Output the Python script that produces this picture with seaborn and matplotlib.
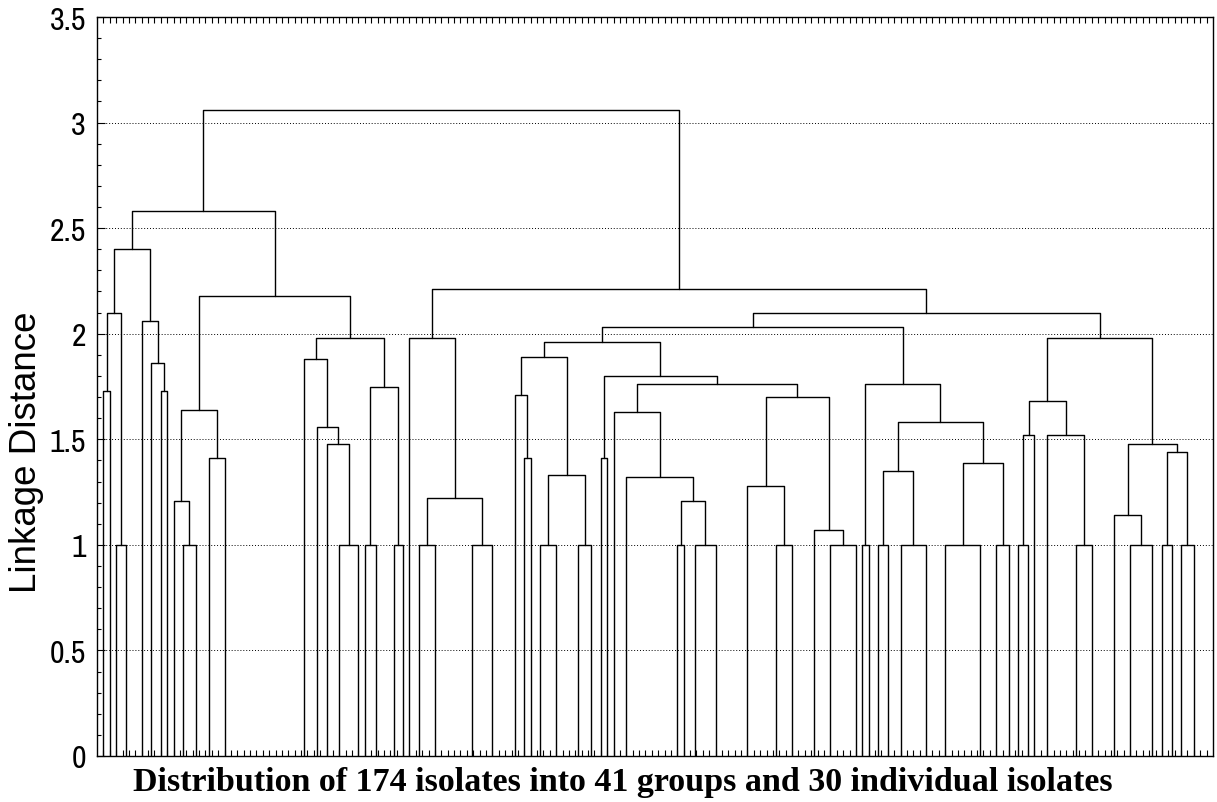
import numpy as np
import pandas as pd
import matplotlib
matplotlib.use("Agg")
import matplotlib.pyplot as plt
import seaborn as sns
from matplotlib import font_manager
from matplotlib.font_manager import FontProperties
from matplotlib.ticker import FixedLocator, MultipleLocator, FuncFormatter

# ---------------- data ----------------
n_isolates = 174
# leaf (group / individual isolate) positions along the isolate axis
leaf_pos = [1, 2, 3, 4.5, 7, 8.5, 10, 11, 12, 13.5, 15.5, 17.5, 20,
            32.5, 34.5, 36, 38, 41, 42, 43.7, 46.5, 48,
            49, 50.5, 53, 58.8, 62,
            65.5, 67, 68, 69.5, 72, 75.5, 77.5, 79, 80, 81, 83, 91, 92, 93.8, 97,
            102, 106.5, 109, 112.5, 115, 119,
            120, 121, 122.5, 124, 126, 130, 133, 138.5, 141, 143,
            144.5, 146, 147, 149, 153.5, 156, 159.5, 162, 165.5, 167, 168.5, 170, 172]
# linkage (ids < 71 are leaves, ids >= 71 are earlier merges)
merge_a = [0, 2, 71, 6, 5, 4, 73, 9, 8, 11, 79, 16, 15, 14, 13, 18, 20, 86, 85, 81, 77,
           23, 25, 92, 22, 28, 27, 30, 32, 98, 97, 34, 38, 40, 103, 37, 36, 43, 42, 46, 45,
           109, 107, 102, 101, 48, 50, 52, 117, 54, 56, 120, 119, 116, 115,
           58, 126, 62, 61, 127, 65, 64, 67, 69, 133, 132, 130, 125, 95, 91]
merge_b = [1, 3, 72, 7, 74, 75, 76, 10, 78, 12, 80, 17, 82, 83, 84, 19, 21, 87, 88, 89, 90,
           24, 26, 93, 94, 29, 96, 31, 33, 99, 100, 35, 39, 41, 104, 105, 106, 44, 108, 47, 110,
           111, 112, 113, 114, 49, 51, 53, 118, 55, 57, 121, 122, 123, 124,
           59, 60, 63, 128, 129, 66, 131, 68, 70, 134, 135, 136, 137, 138, 139]
merge_h = [1.73, 1.00, 2.10, 1.73, 1.86, 2.06, 2.40, 1.00, 1.21, 1.41, 1.64, 1.00, 1.48, 1.56,
           1.88, 1.00, 1.00, 1.75, 1.98, 2.18, 2.58,
           1.00, 1.00, 1.22, 1.98, 1.41, 1.71, 1.00, 1.00, 1.33, 1.89, 1.41, 1.00, 1.00, 1.21,
           1.32, 1.63, 1.00, 1.28, 1.00, 1.07, 1.70, 1.76, 1.80, 1.96, 1.00, 1.00, 1.00, 1.35,
           1.00, 1.00, 1.39, 1.58, 1.76, 2.03,
           1.00, 1.52, 1.00, 1.52, 1.68, 1.00, 1.14, 1.00, 1.00, 1.44, 1.48, 1.98, 2.10, 2.21, 3.06]
y_ticks = [0, 0.5, 1, 1.5, 2, 2.5, 3, 3.5]
y_label = "Linkage Distance"
x_label = "Distribution of 174 isolates into 41 groups and 30 individual isolates"

# ------------- build dendrogram segments -------------
pos = list(leaf_pos)
top = [0.0] * len(leaf_pos)
rows = []
for k, (a, b, h) in enumerate(zip(merge_a, merge_b, merge_h)):
    xa, xb = pos[a], pos[b]
    for x, y in [(xa, top[a]), (xa, h), (xb, h), (xb, top[b])]:
        rows.append({"seg": k, "x": x, "y": y})
    pos.append((xa + xb) / 2.0)
    top.append(h)
df = pd.DataFrame(rows)

# ------------- fonts -------------
flist = font_manager.fontManager.ttflist
available = {f.name for f in flist}
sans = "Liberation Sans" if "Liberation Sans" in available else "DejaVu Sans"
serif = "Liberation Serif" if "Liberation Serif" in available else "DejaVu Serif"


def find_narrow():
    def regular(f):
        return f.style == "normal" and f.weight in (400, "normal", "regular", "book")
    for key in ("Narrow", "Condensed"):
        for f in flist:
            if key in f.name and regular(f) and "Bold" not in f.fname:
                return f.fname
    for f in flist:
        if f.stretch in ("condensed", "semi-condensed") and regular(f) \
                and f.name in ("Liberation Sans", "DejaVu Sans", "Roboto", "Open Sans", "Noto Sans"):
            return f.fname
    return None


narrow_file = find_narrow()

sns.set_style("white")
plt.rcParams["font.family"] = [sans, "DejaVu Sans"]
plt.rcParams["text.color"] = "black"
plt.rcParams["axes.labelcolor"] = "black"

W, H = 1217, 803
fig = plt.figure(figsize=(W / 100, H / 100), dpi=100)
ax = fig.add_axes([97 / W, 1 - 757 / H, (1213 - 97) / W, (757 - 18) / H])

ax.yaxis.grid(True, linestyle=(0, (1, 2)), color="black", linewidth=0.7)
ax.set_axisbelow(True)

sns.lineplot(data=df, x="x", y="y", units="seg", estimator=None, sort=False,
             color="black", linewidth=1.0, ax=ax, legend=False)

ax.set_xlim(0, n_isolates + 1)
ax.set_ylim(0, 3.5)

ax.xaxis.set_major_locator(FixedLocator(np.arange(1, n_isolates + 1)))
ax.tick_params(axis="x", which="major", direction="in", length=4, width=0.8,
               top=True, bottom=True, labelbottom=False, colors="black")
ax.yaxis.set_major_locator(FixedLocator(y_ticks))
ax.yaxis.set_minor_locator(MultipleLocator(0.1))
ax.yaxis.set_major_formatter(FuncFormatter(lambda v, p: f"{v:g}"))
ax.tick_params(axis="y", which="major", direction="in", length=6, width=0.8,
               left=True, right=False, pad=8, colors="black", labelcolor="black")
ax.tick_params(axis="y", which="minor", direction="in", length=3, width=0.8,
               left=True, right=False, colors="black")
if narrow_file:
    tick_fp = FontProperties(fname=narrow_file, size=23)
else:
    tick_fp = FontProperties(family=sans, size=20)
for lbl in ax.get_yticklabels():
    lbl.set_fontproperties(tick_fp)
    lbl.set_color("black")

for s in ax.spines.values():
    s.set_color("black")
    s.set_linewidth(1.0)
    s.set_visible(True)

ax.set_xlabel("")
ax.set_ylabel(y_label, fontsize=26.5, va="center", ha="center", color="black")
ax.yaxis.set_label_coords((27 - 97) / 1116, (757 - 452) / 739)

fig.text(623 / W, 1 - 783 / H, x_label, ha="center", va="center",
         fontfamily=serif, fontweight="bold", fontsize=24.5, color="black")

fig.savefig("out.png", dpi=100)
